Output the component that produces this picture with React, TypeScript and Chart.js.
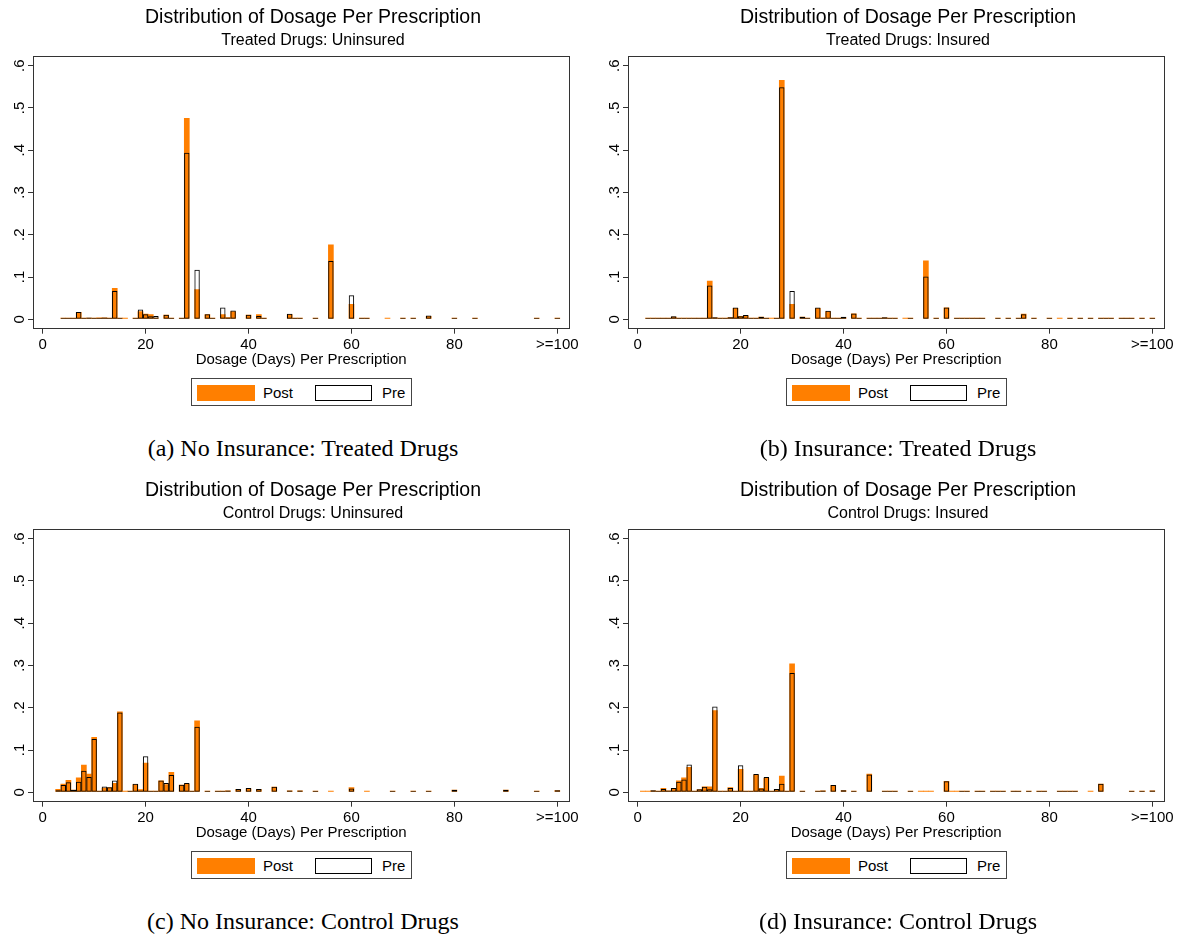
import React, { useEffect, useRef } from "react";
import { Chart, registerables } from "chart.js";

Chart.register(...registerables);

// ---------- axis ticks ----------
const X_TICKS = [0, 20, 40, 60, 80, 100];
const X_TICK_LABELS = ["0", "20", "40", "60", "80", ">=100"];
const Y_TICKS = [0, 0.1, 0.2, 0.3, 0.4, 0.5, 0.6];
const Y_TICK_LABELS = ["0", ".1", ".2", ".3", ".4", ".5", ".6"];
const SERIES_NAMES = ["Post", "Pre"];
const X_TITLE = "Dosage (Days) Per Prescription";
const MAIN_TITLE = "Distribution of Dosage Per Prescription";

// ---------- (a) Treated Drugs: Uninsured ----------
const TREATED_UNINSURED_DAYS = [
  4, 5, 6, 7, 8, 9, 10, 11, 12, 13,
  14, 15, 16, 18, 19, 20, 21, 22, 24, 25,
  27, 28, 30, 32, 33, 35, 36, 37, 40, 42,
  43, 48, 49, 50, 53, 56, 60, 62, 63, 67,
  70, 72, 75, 80, 84, 96, 100,
];
const TREATED_UNINSURED_PRE = [
  0.002, 0.001, 0.002, 0.017, 0.001, 0.004, 0.003, 0.003, 0.004, 0.001,
  0.067, 0.002, 0, 0.003, 0.023, 0.012, 0.007, 0.008, 0.011, 0.001,
  0.001, 0.394, 0.117, 0.012, 0.001, 0.028, 0.004, 0.021, 0.011, 0.008,
  0.003, 0.013, 0.002, 0.002, 0.002, 0.138, 0.057, 0.002, 0.003, 0,
  0.002, 0.002, 0.009, 0.002, 0.002, 0.002, 0.002,
];
const TREATED_UNINSURED_POST = [
  0.002, 0.002, 0.002, 0.017, 0.001, 0.003, 0.003, 0.004, 0.004, 0.001,
  0.074, 0.002, 0.002, 0.003, 0.019, 0.013, 0.012, 0.002, 0.011, 0.001,
  0.001, 0.476, 0.071, 0.012, 0.001, 0.012, 0.005, 0.019, 0.011, 0.012,
  0.003, 0.012, 0.002, 0.002, 0.002, 0.177, 0.036, 0.002, 0.003, 0.002,
  0.002, 0.002, 0.008, 0.002, 0.002, 0.002, 0.002,
];

// ---------- (b) Treated Drugs: Insured ----------
const TREATED_INSURED_DAYS = [
  2, 3, 4, 5, 6, 7, 8, 9, 10, 11,
  12, 13, 14, 15, 16, 17, 18, 19, 20, 21,
  22, 23, 24, 25, 26, 27, 28, 30, 32, 33,
  35, 36, 37, 38, 39, 40, 42, 43, 45, 46,
  47, 48, 49, 50, 52, 53, 56, 58, 60, 62,
  63, 64, 65, 66, 67, 70, 72, 74, 75, 77,
  80, 82, 84, 86, 88, 90, 91, 92, 94, 95,
  96, 98, 100,
];
const TREATED_INSURED_PRE = [
  0.001, 0.001, 0.001, 0.001, 0.002, 0.007, 0.002, 0.003, 0.002, 0.002,
  0.002, 0.001, 0.080, 0.005, 0.001, 0.001, 0.005, 0.028, 0.007, 0.010,
  0.003, 0.001, 0.006, 0.001, 0, 0.001, 0.549, 0.067, 0.006, 0.001,
  0.028, 0.003, 0.020, 0.001, 0.001, 0.006, 0.014, 0.002, 0.001, 0.001,
  0.001, 0.005, 0.002, 0.001, 0, 0.001, 0.101, 0.001, 0.028, 0.002,
  0.002, 0.001, 0.001, 0.001, 0.001, 0.002, 0.001, 0.001, 0.012, 0.001,
  0.001, 0, 0.001, 0.001, 0.001, 0.001, 0.001, 0.001, 0.001, 0.001,
  0.001, 0.001, 0.003,
];
const TREATED_INSURED_POST = [
  0.001, 0.001, 0.002, 0.002, 0.002, 0.006, 0.002, 0.003, 0.003, 0.002,
  0.002, 0.001, 0.091, 0.004, 0.002, 0.001, 0.005, 0.027, 0.008, 0.009,
  0.003, 0.001, 0.006, 0.002, 0.002, 0.001, 0.566, 0.036, 0.006, 0.001,
  0.027, 0.004, 0.019, 0.001, 0.001, 0.005, 0.014, 0.002, 0.001, 0.001,
  0.001, 0.004, 0.002, 0.002, 0.002, 0.002, 0.139, 0.001, 0.028, 0.003,
  0.002, 0.001, 0.001, 0.001, 0.001, 0.002, 0.001, 0.001, 0.013, 0.001,
  0.001, 0.002, 0.001, 0.001, 0.001, 0.001, 0.001, 0.001, 0.001, 0.002,
  0.001, 0.001, 0.003,
];

// ---------- (c) Control Drugs: Uninsured ----------
const CONTROL_UNINSURED_DAYS = [
  3, 4, 5, 6, 7, 8, 9, 10, 11, 12,
  13, 14, 15, 16, 17, 18, 19, 20, 21, 22,
  23, 24, 25, 27, 28, 29, 30, 32, 34, 35,
  36, 38, 40, 42, 45, 48, 50, 53, 56, 60,
  63, 68, 72, 75, 80, 90, 96, 100,
];
const CONTROL_UNINSURED_PRE = [
  0.005, 0.017, 0.024, 0.006, 0.025, 0.051, 0.036, 0.126, 0.002, 0.014,
  0.012, 0.028, 0.189, 0, 0.003, 0.020, 0.004, 0.085, 0.002, 0.001,
  0.028, 0.022, 0.041, 0.018, 0.022, 0.001, 0.155, 0.002, 0.001, 0.001,
  0.004, 0.008, 0.010, 0.008, 0.013, 0.004, 0.004, 0.002, 0, 0.009,
  0, 0.002, 0.003, 0.003, 0.006, 0.006, 0.002, 0.005,
];
const CONTROL_UNINSURED_POST = [
  0.008, 0.020, 0.029, 0.006, 0.035, 0.065, 0.044, 0.131, 0.002, 0.011,
  0.012, 0.022, 0.191, 0.002, 0.003, 0.019, 0.007, 0.070, 0.002, 0.001,
  0.028, 0.019, 0.048, 0.018, 0.020, 0.001, 0.170, 0.002, 0.001, 0.002,
  0.004, 0.008, 0.009, 0.008, 0.013, 0.004, 0.004, 0.002, 0.002, 0.012,
  0.002, 0.002, 0.003, 0.003, 0.006, 0.006, 0.002, 0.005,
];

// ---------- (d) Control Drugs: Insured ----------
const CONTROL_INSURED_DAYS = [
  1, 2, 3, 4, 5, 6, 7, 8, 9, 10,
  11, 12, 13, 14, 15, 16, 17, 18, 19, 20,
  21, 22, 23, 24, 25, 26, 27, 28, 29, 30,
  32, 35, 36, 38, 40, 42, 45, 48, 49, 50,
  53, 55, 56, 57, 60, 61, 62, 63, 64, 66,
  67, 69, 70, 71, 73, 74, 76, 78, 79, 82,
  83, 84, 85, 88, 90, 96, 98, 100,
];
const CONTROL_INSURED_PRE = [
  0, 0, 0.005, 0.002, 0.008, 0.004, 0.010, 0.025, 0.030, 0.066,
  0.003, 0.007, 0.013, 0.007, 0.203, 0.002, 0.003, 0.010, 0.002, 0.064,
  0.003, 0.001, 0.043, 0.009, 0.036, 0.001, 0.008, 0.020, 0.001, 0.282,
  0.002, 0.002, 0.004, 0.017, 0.005, 0.003, 0.042, 0.002, 0.002, 0.002,
  0.002, 0, 0, 0, 0.026, 0, 0, 0.001, 0.001, 0.001,
  0.001, 0.001, 0.001, 0.001, 0.001, 0.001, 0.001, 0.001, 0.001, 0.001,
  0.001, 0.001, 0.001, 0, 0.020, 0.001, 0.001, 0.004,
];
const CONTROL_INSURED_POST = [
  0.001, 0.001, 0.004, 0.002, 0.010, 0.004, 0.010, 0.028, 0.035, 0.060,
  0.003, 0.007, 0.014, 0.014, 0.194, 0.002, 0.003, 0.012, 0.002, 0.055,
  0.003, 0.001, 0.042, 0.010, 0.034, 0.001, 0.007, 0.039, 0.001, 0.305,
  0.002, 0.002, 0.004, 0.017, 0.005, 0.003, 0.044, 0.002, 0.002, 0.002,
  0.003, 0.001, 0.002, 0.001, 0.027, 0.002, 0.001, 0.001, 0.001, 0.001,
  0.001, 0.001, 0.001, 0.001, 0.001, 0.001, 0.001, 0.001, 0.001, 0.001,
  0.001, 0.001, 0.001, 0.001, 0.020, 0.001, 0.001, 0.004,
];

// ---------- styling / layout ----------
const FONT = "'Liberation Sans', Arial, Helvetica, sans-serif";
const SERIF = "'Liberation Serif', 'Times New Roman', serif";
const ORANGE = "rgb(255,127,0)";
const FRAME = "#333333";

const X_MIN = -1.885;
const X_MAX = 102.33;
const Y_MIN = -0.02224;
const Y_MAX = 0.6229;

const CANVAS_W = 626;
const CANVAS_H = 375;

type PanelSpec = {
  subtitle: string;
  caption: string;
  days: number[];
  pre: number[];
  post: number[];
  left: number;
  top: number;
};

const PANELS: PanelSpec[] = [
  {
    subtitle: "Treated Drugs: Uninsured",
    caption: "(a) No Insurance: Treated Drugs",
    days: TREATED_UNINSURED_DAYS,
    pre: TREATED_UNINSURED_PRE,
    post: TREATED_UNINSURED_POST,
    left: 0,
    top: 0,
  },
  {
    subtitle: "Treated Drugs: Insured",
    caption: "(b) Insurance: Treated Drugs",
    days: TREATED_INSURED_DAYS,
    pre: TREATED_INSURED_PRE,
    post: TREATED_INSURED_POST,
    left: 595,
    top: 0,
  },
  {
    subtitle: "Control Drugs: Uninsured",
    caption: "(c) No Insurance: Control Drugs",
    days: CONTROL_UNINSURED_DAYS,
    pre: CONTROL_UNINSURED_PRE,
    post: CONTROL_UNINSURED_POST,
    left: 0,
    top: 473,
  },
  {
    subtitle: "Control Drugs: Insured",
    caption: "(d) Insurance: Control Drugs",
    days: CONTROL_INSURED_DAYS,
    pre: CONTROL_INSURED_PRE,
    post: CONTROL_INSURED_POST,
    left: 595,
    top: 473,
  },
];

const framePlugin = {
  id: "plotFrame",
  afterDatasetsDraw(chart: any) {
    const { ctx, chartArea: a } = chart;
    const l = Math.floor(a.left) + 0.5;
    const t = Math.floor(a.top) + 0.5;
    const r = Math.floor(a.right) + 0.5;
    const b = Math.floor(a.bottom) + 0.5;
    ctx.save();
    ctx.strokeStyle = FRAME;
    ctx.lineWidth = 1;
    ctx.strokeRect(l, t, r - l, b - t);
    ctx.restore();
  },
};

function Panel({ spec }: { spec: PanelSpec }) {
  const ref = useRef<HTMLCanvasElement | null>(null);

  useEffect(() => {
    const canvas = ref.current;
    if (!canvas) return;
    const toPoints = (vals: number[]) =>
      spec.days.map((d, i) => ({ x: d, y: vals[i] === 0 ? null : vals[i] }));

    const chart = new Chart(canvas, {
      type: "bar",
      data: {
        datasets: [
          {
            label: SERIES_NAMES[0],
            data: toPoints(spec.post) as any,
            backgroundColor: ORANGE,
            borderWidth: 0,
            grouped: false,
            categoryPercentage: 1,
            barPercentage: 1.1,
            minBarLength: 1.5,
            order: 2,
          } as any,
          {
            label: SERIES_NAMES[1],
            data: toPoints(spec.pre) as any,
            backgroundColor: "rgba(0,0,0,0)",
            borderColor: "#000000",
            borderWidth: 1,
            borderSkipped: false,
            grouped: false,
            categoryPercentage: 1,
            barPercentage: 1.05,
            minBarLength: 1.5,
            order: 1,
          } as any,
        ],
      },
      options: {
        animation: false,
        responsive: false,
        maintainAspectRatio: false,
        devicePixelRatio: 1,
        layout: { padding: 0 },
        plugins: {
          legend: { display: false },
          tooltip: { enabled: false },
          title: {
            display: true,
            text: MAIN_TITLE,
            color: "#000",
            font: { family: FONT, size: 19.5, weight: "normal", lineHeight: 1.2 },
            padding: { top: 6.3, bottom: 0 },
          },
          subtitle: {
            display: true,
            text: spec.subtitle,
            color: "#000",
            font: { family: FONT, size: 16, weight: "normal", lineHeight: 1.2 },
            padding: { top: 1.7, bottom: 5.4 },
          },
        },
        scales: {
          x: {
            type: "linear",
            min: X_MIN,
            max: X_MAX,
            offset: false,
            grid: {
              display: true,
              drawOnChartArea: false,
              drawTicks: true,
              tickLength: 5,
              color: FRAME,
              offset: false,
            },
            border: { display: false },
            ticks: {
              color: "#000",
              font: { family: FONT, size: 15 },
              padding: 2.3,
              minRotation: 0,
              maxRotation: 0,
              autoSkip: false,
              callback: (v: any) => {
                const i = X_TICKS.indexOf(Number(v));
                return i >= 0 ? X_TICK_LABELS[i] : "";
              },
            },
            afterBuildTicks: (s: any) => {
              s.ticks = X_TICKS.map((v) => ({ value: v }));
            },
            afterFit: (s: any) => {
              s.height = CANVAS_H - 328.7;
            },
            title: {
              display: true,
              text: X_TITLE,
              color: "#000",
              font: { family: FONT, size: 15, lineHeight: 1.2 },
              padding: { top: 0, bottom: 6.5 },
            },
          } as any,
          y: {
            type: "linear",
            min: Y_MIN,
            max: Y_MAX,
            grid: {
              display: true,
              drawOnChartArea: false,
              drawTicks: true,
              tickLength: 5,
              color: FRAME,
            },
            border: { display: false },
            ticks: {
              color: "#000",
              font: { family: FONT, size: 15 },
              padding: 2,
              minRotation: 90,
              maxRotation: 90,
              crossAlign: "center",
              autoSkip: false,
              callback: (v: any) => {
                const i = Y_TICKS.indexOf(Number(v));
                return i >= 0 ? Y_TICK_LABELS[i] : "";
              },
            },
            afterBuildTicks: (s: any) => {
              s.ticks = Y_TICKS.map((v) => ({ value: v }));
            },
            afterFit: (s: any) => {
              s.width = 33;
            },
          } as any,
          yRightSpace: {
            type: "linear",
            position: "right",
            display: true,
            grid: { display: false, drawTicks: false },
            border: { display: false },
            ticks: { display: false },
            afterFit: (s: any) => {
              s.width = CANVAS_W - 569.3;
            },
          } as any,
        },
      },
      plugins: [framePlugin],
    });
    return () => chart.destroy();
  }, [spec]);

  const textStyle: React.CSSProperties = {
    position: "absolute",
    top: 384.5,
    height: 16,
    lineHeight: "16px",
    fontFamily: FONT,
    fontSize: 15,
    color: "#000",
    whiteSpace: "nowrap",
  };

  return (
    <div
      style={{
        position: "absolute",
        left: spec.left,
        top: spec.top,
        width: CANVAS_W,
        height: 470,
      }}
    >
      <canvas
        ref={ref}
        width={CANVAS_W}
        height={CANVAS_H}
        style={{ position: "absolute", left: 0, top: 0, width: CANVAS_W, height: CANVAS_H, display: "block" }}
      />
      <div
        style={{
          position: "absolute",
          left: 191,
          top: 378,
          width: 221,
          height: 28,
          border: "1px solid #444",
          boxSizing: "border-box",
          background: "#fff",
        }}
      />
      <div
        style={{
          position: "absolute",
          left: 197,
          top: 384.5,
          width: 58,
          height: 16,
          background: ORANGE,
        }}
      />
      <div style={{ ...textStyle, left: 263 }}>{SERIES_NAMES[0]}</div>
      <div
        style={{
          position: "absolute",
          left: 315,
          top: 384.5,
          width: 57,
          height: 16,
          border: "1px solid #000",
          boxSizing: "border-box",
          background: "#fff",
        }}
      />
      <div style={{ ...textStyle, left: 382 }}>{SERIES_NAMES[1]}</div>
      <div
        style={{
          position: "absolute",
          left: 0,
          width: 606,
          top: 436,
          textAlign: "center",
          fontFamily: SERIF,
          fontSize: 24,
          lineHeight: "24px",
          color: "#000",
          whiteSpace: "nowrap",
        }}
      >
        {spec.caption}
      </div>
    </div>
  );
}

export default function App() {
  return (
    <div
      style={{
        position: "absolute",
        left: 0,
        top: 0,
        width: 1184,
        height: 940,
        background: "#fff",
        overflow: "hidden",
      }}
    >
      {PANELS.map((p) => (
        <Panel key={p.caption} spec={p} />
      ))}
    </div>
  );
}
